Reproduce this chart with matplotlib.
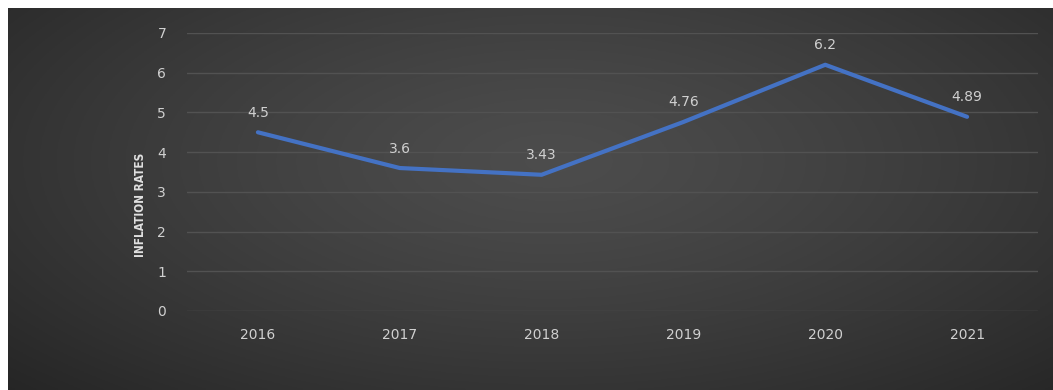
import numpy as np
import matplotlib
matplotlib.use("Agg")
import matplotlib.pyplot as plt
from matplotlib import font_manager

years = ["2016", "2017", "2018", "2019", "2020", "2021"]
rates = [4.5, 3.6, 3.43, 4.76, 6.2, 4.89]
rate_labels = ["4.5", "3.6", "3.43", "4.76", "6.2", "4.89"]
y_ticks = [0, 1, 2, 3, 4, 5, 6, 7]
y_title = "INFLATION RATES"

W, H = 1053, 390
fig = plt.figure(figsize=(W / 100, H / 100), dpi=100)
fig.patch.set_facecolor("white")

# dark radial-gradient panel
bg_ax = fig.add_axes([8 / W, 0, 1 - 8 / W, 1 - 8 / H])
bg_ax.set_axis_off()
gx = np.linspace(0, 1, 400)
gy = np.linspace(0, 1, 160)
X, Y = np.meshgrid(gx, gy)
d = np.sqrt(((X - 0.52) / 0.75) ** 2 + ((Y - 0.6) / 0.9) ** 2)
d = np.clip(d, 0, 1)
inner, outer = 0.30, 0.14
val = inner - (inner - outer) * d ** 1.3
img = np.dstack([val, val, val])
bg_ax.imshow(img, aspect="auto", extent=[0, 1, 0, 1], origin="lower")
bg_ax.set_xlim(0, 1)
bg_ax.set_ylim(0, 1)

ax = fig.add_axes([187 / W, 1 - 311 / H, (1038 - 187) / W, (311 - 33) / H])
ax.patch.set_alpha(0)
x = np.arange(len(years))
ax.plot(x, rates, color="#4472C4", lw=3.0, solid_capstyle="round", zorder=3)
for xi, yi, lab in zip(x, rates, rate_labels):
    ax.annotate(lab, (xi, yi), xytext=(0, 9), textcoords="offset points",
                ha="center", va="bottom", color="#d0d0d0", fontsize=10)

ax.set_xlim(-0.5, len(years) - 0.5)
ax.set_ylim(0, 7)
ax.set_yticks(y_ticks)
ax.set_yticklabels([str(t) for t in y_ticks])
ax.set_xticks(x)
ax.set_xticklabels(years)
ax.grid(axis="y", color="#525252", lw=1)
ax.set_axisbelow(True)
for s in ax.spines.values():
    s.set_visible(False)
ax.tick_params(axis="both", length=0, colors="#d0d0d0", labelsize=10)
ax.tick_params(axis="y", pad=15)
ax.tick_params(axis="x", pad=12)

names = {f.name for f in font_manager.fontManager.ttflist}
fam = "Liberation Sans Narrow" if "Liberation Sans Narrow" in names else "DejaVu Sans"
fig.text(140 / W, 1 - 205 / H, y_title, rotation=90, ha="center", va="center",
         color="#e0e0e0", fontsize=8.5, fontweight="bold", family=fam,
         fontstretch="condensed")

fig.savefig("out.png", dpi=100, facecolor=fig.get_facecolor())
